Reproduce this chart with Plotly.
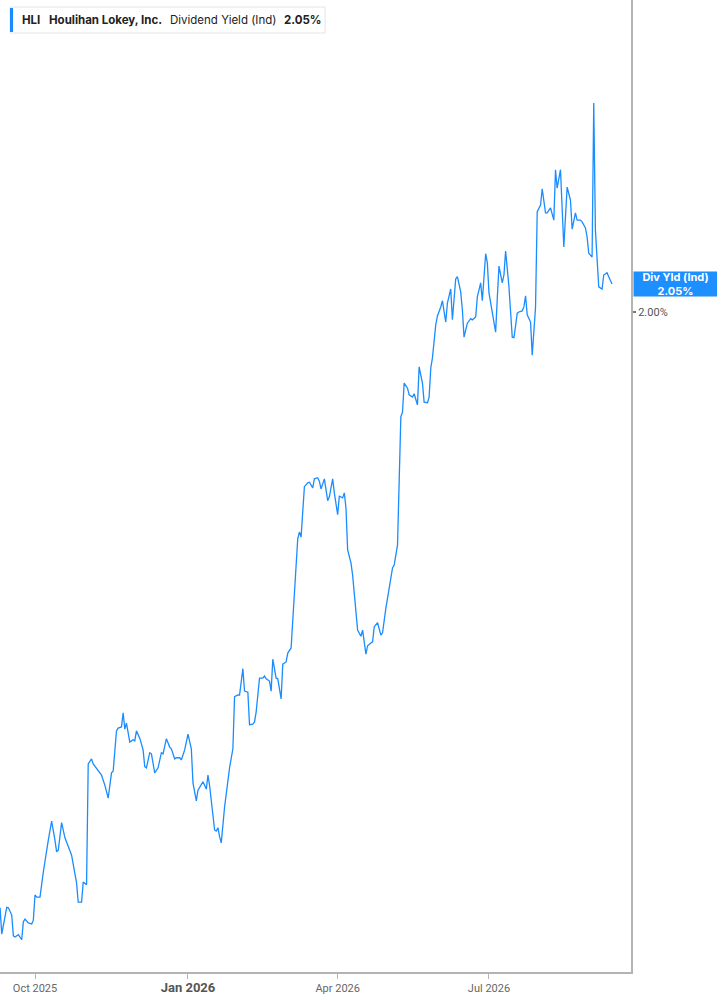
import plotly.graph_objects as go

# ---- data ----
dates = [
    "2025-09-10", "2025-09-11", "2025-09-14", "2025-09-15", "2025-09-17", "2025-09-18", "2025-09-19",
    "2025-09-21", "2025-09-23", "2025-09-24", "2025-09-25", "2025-09-27", "2025-09-29", "2025-09-30",
    "2025-10-01", "2025-10-02", "2025-10-04", "2025-10-06", "2025-10-09", "2025-10-11", "2025-10-13",
    "2025-10-14", "2025-10-15", "2025-10-17", "2025-10-19", "2025-10-21", "2025-10-22", "2025-10-23",
    "2025-10-26", "2025-10-27", "2025-10-29", "2025-10-30", "2025-11-01", "2025-11-02", "2025-11-04",
    "2025-11-05", "2025-11-08", "2025-11-10", "2025-11-12", "2025-11-14", "2025-11-16", "2025-11-17",
    "2025-11-19", "2025-11-20", "2025-11-22", "2025-11-23", "2025-11-24", "2025-11-25", "2025-11-27",
    "2025-11-29", "2025-11-30", "2025-12-01", "2025-12-03", "2025-12-05", "2025-12-06", "2025-12-07",
    "2025-12-09", "2025-12-10", "2025-12-12", "2025-12-14", "2025-12-16", "2025-12-17", "2025-12-19",
    "2025-12-21", "2025-12-22", "2025-12-24", "2025-12-25", "2025-12-27", "2025-12-28", "2025-12-30",
    "2026-01-01", "2026-01-03", "2026-01-04", "2026-01-06", "2026-01-07", "2026-01-09", "2026-01-10",
    "2026-01-12", "2026-01-13", "2026-01-14", "2026-01-16", "2026-01-17", "2026-01-18", "2026-01-19",
    "2026-01-20", "2026-01-21", "2026-01-23", "2026-01-25", "2026-01-26", "2026-01-28", "2026-01-29",
    "2026-01-31", "2026-02-01", "2026-02-03", "2026-02-04", "2026-02-06", "2026-02-07", "2026-02-09",
    "2026-02-10", "2026-02-11", "2026-02-13", "2026-02-15", "2026-02-16", "2026-02-17", "2026-02-19",
    "2026-02-20", "2026-02-21", "2026-02-23", "2026-02-24", "2026-02-26", "2026-02-27", "2026-03-01",
    "2026-03-02", "2026-03-04", "2026-03-05", "2026-03-07", "2026-03-08", "2026-03-09", "2026-03-10",
    "2026-03-12", "2026-03-14", "2026-03-15", "2026-03-16", "2026-03-17", "2026-03-18", "2026-03-20",
    "2026-03-21", "2026-03-22", "2026-03-24", "2026-03-26", "2026-03-27", "2026-03-29", "2026-03-30",
    "2026-04-01", "2026-04-02", "2026-04-04", "2026-04-05", "2026-04-06", "2026-04-07", "2026-04-09",
    "2026-04-10", "2026-04-12", "2026-04-13", "2026-04-15", "2026-04-16", "2026-04-18", "2026-04-19",
    "2026-04-21", "2026-04-22", "2026-04-23", "2026-04-25", "2026-04-27", "2026-04-28", "2026-04-30",
    "2026-05-01", "2026-05-02", "2026-05-04", "2026-05-05", "2026-05-07", "2026-05-09", "2026-05-10",
    "2026-05-11", "2026-05-13", "2026-05-14", "2026-05-16", "2026-05-17", "2026-05-19", "2026-05-20",
    "2026-05-22", "2026-05-23", "2026-05-25", "2026-05-26", "2026-05-27", "2026-05-28", "2026-05-30",
    "2026-05-31", "2026-06-02", "2026-06-03", "2026-06-05", "2026-06-06", "2026-06-08", "2026-06-09",
    "2026-06-11", "2026-06-12", "2026-06-14", "2026-06-15", "2026-06-16", "2026-06-18", "2026-06-20",
    "2026-06-21", "2026-06-23", "2026-06-24", "2026-06-26", "2026-06-27", "2026-06-29", "2026-06-30",
    "2026-07-01", "2026-07-03", "2026-07-05", "2026-07-06", "2026-07-07", "2026-07-09", "2026-07-10",
    "2026-07-11", "2026-07-13", "2026-07-15", "2026-07-16", "2026-07-18", "2026-07-19", "2026-07-21",
    "2026-07-22", "2026-07-23", "2026-07-24", "2026-07-26", "2026-07-27", "2026-07-29", "2026-07-30",
    "2026-08-01", "2026-08-02", "2026-08-04", "2026-08-05", "2026-08-07", "2026-08-09", "2026-08-10",
    "2026-08-11", "2026-08-13", "2026-08-15", "2026-08-16", "2026-08-17", "2026-08-19", "2026-08-20",
    "2026-08-22", "2026-08-23", "2026-08-25", "2026-08-26", "2026-08-28", "2026-08-29", "2026-08-30",
    "2026-09-01", "2026-09-02", "2026-09-03", "2026-09-05", "2026-09-07", "2026-09-08", "2026-09-10",
    "2026-09-11", "2026-09-13",
]

div_yield = [
    0.936, 0.889, 0.937, 0.936, 0.923, 0.886, 0.884,
    0.888, 0.879, 0.911, 0.916, 0.909, 0.907, 0.914,
    0.959, 0.955, 0.955, 1.000, 1.057, 1.091, 1.057,
    1.036, 1.039, 1.088, 1.061, 1.043, 1.038, 1.030,
    0.980, 0.946, 0.946, 0.982, 0.977, 1.193, 1.202,
    1.193, 1.182, 1.173, 1.155, 1.132, 1.177, 1.180,
    1.252, 1.257, 1.259, 1.284, 1.255, 1.266, 1.232,
    1.236, 1.234, 1.252, 1.239, 1.218, 1.188, 1.186,
    1.213, 1.211, 1.177, 1.186, 1.213, 1.211, 1.238,
    1.223, 1.220, 1.202, 1.204, 1.204, 1.200, 1.218,
    1.246, 1.220, 1.159, 1.127, 1.146, 1.157, 1.161,
    1.148, 1.173, 1.154, 1.102, 1.075, 1.073, 1.079,
    1.063, 1.052, 1.116, 1.164, 1.186, 1.220, 1.313,
    1.316, 1.316, 1.363, 1.323, 1.321, 1.263, 1.264,
    1.268, 1.286, 1.346, 1.346, 1.350, 1.345, 1.341,
    1.323, 1.380, 1.346, 1.345, 1.309, 1.371, 1.375,
    1.391, 1.400, 1.450, 1.539, 1.595, 1.607, 1.598,
    1.688, 1.695, 1.696, 1.691, 1.686, 1.702, 1.704,
    1.698, 1.684, 1.702, 1.663, 1.670, 1.702, 1.677,
    1.638, 1.671, 1.668, 1.677, 1.650, 1.575, 1.552,
    1.530, 1.473, 1.432, 1.421, 1.432, 1.389, 1.404,
    1.409, 1.411, 1.438, 1.445, 1.423, 1.427, 1.471,
    1.486, 1.507, 1.543, 1.548, 1.584, 1.813, 1.821,
    1.873, 1.864, 1.852, 1.848, 1.854, 1.834, 1.902,
    1.873, 1.839, 1.838, 1.848, 1.900, 1.918, 1.977,
    1.993, 2.009, 2.020, 1.982, 2.016, 2.041, 1.986,
    2.059, 2.063, 2.036, 2.004, 1.955, 1.980, 1.988,
    1.986, 1.991, 2.027, 2.052, 2.020, 2.104, 2.088,
    2.034, 1.995, 1.964, 2.025, 2.082, 2.052, 2.066,
    2.109, 2.045, 1.955, 1.954, 1.998, 2.000, 2.002,
    2.009, 2.029, 1.995, 1.982, 1.923, 2.009, 2.179,
    2.191, 2.220, 2.177, 2.177, 2.186, 2.164, 2.254,
    2.221, 2.254, 2.116, 2.170, 2.223, 2.200, 2.148,
    2.177, 2.164, 2.164, 2.161, 2.150, 2.134, 2.105,
    2.098, 2.373, 2.146, 2.045, 2.041, 2.066, 2.070,
    2.063, 2.050,
]

x_tick_vals = ["2025-10-01", "2026-01-01", "2026-04-01", "2026-07-01"]
x_tick_text = ["Oct 2025", "<b><span style='font-size:13px;color:#555'>Jan 2026</span></b>", "Apr 2026", "Jul 2026"]
y_tick_vals = [2.0]
y_tick_text = ["2.00%"]

ticker = "HLI"
company = "Houlihan Lokey, Inc."
metric = "Dividend Yield (Ind)"
last_value_text = "2.05%"
last_value = 2.05

LINE_BLUE = "#1a8cff"
AXIS_GRAY = "#b3b3b3"

W, H = 717, 1005
M_L, M_R, M_T, M_B = 0, 86, 0, 33
PW, PH = W - M_L - M_R, H - M_T - M_B


def px_x(p):
    return p / PW


def px_y(p):
    return 1 - p / PH


fig = go.Figure()
fig.add_trace(go.Scatter(
    x=dates, y=div_yield, mode="lines",
    line=dict(color=LINE_BLUE, width=1.3),
    hoverinfo="skip", showlegend=False,
))

fig.update_layout(
    width=W, height=H,
    margin=dict(l=M_L, r=M_R, t=M_T, b=M_B, pad=0),
    paper_bgcolor="white", plot_bgcolor="white",
    font=dict(family="Roboto, Inter, sans-serif", color="#666", size=11),
    xaxis=dict(
        type="date",
        range=["2025-09-09 22:50", "2026-09-24 09:40"],
        tickvals=x_tick_vals, ticktext=x_tick_text,
        showgrid=False, zeroline=False,
        showline=True, linecolor=AXIS_GRAY, linewidth=2,
        ticks="outside", ticklen=5, tickwidth=1, tickcolor=AXIS_GRAY,
        tickfont=dict(size=11, color="#666"),
        fixedrange=True,
    ),
    yaxis=dict(
        side="right",
        range=[0.8214, 2.5571],
        tickvals=y_tick_vals, ticktext=y_tick_text,
        showgrid=False, zeroline=False,
        showline=True, linecolor=AXIS_GRAY, linewidth=2,
        ticks="outside", ticklen=3, tickwidth=2, tickcolor="#777",
        tickfont=dict(size=11, color="#555"),
        fixedrange=True,
    ),
)

# Legend-like header box (top-left)
fig.add_shape(type="rect", xref="paper", yref="paper",
              x0=px_x(10), x1=px_x(325), y0=px_y(33), y1=px_y(7),
              line=dict(color="#e4e4e4", width=1), fillcolor="white", layer="above")
fig.add_shape(type="rect", xref="paper", yref="paper",
              x0=px_x(10), x1=px_x(13), y0=px_y(32), y1=px_y(8),
              line=dict(width=0), fillcolor=LINE_BLUE, layer="above")

header_parts = [
    (20, f"<b>{ticker}</b>"),
    (47, f"<b>{company}</b>"),
    (168, metric),
    (282, f"<b>{last_value_text}</b>"),
]
for px, txt in header_parts:
    fig.add_annotation(xref="paper", yref="paper", x=px_x(px), y=px_y(20),
                       xanchor="left", yanchor="middle", text=txt, showarrow=False,
                       font=dict(family="Inter, Roboto, sans-serif", size=11.5, color="#222"))

# Last value label on right axis
fig.add_annotation(xref="paper", yref="y", x=1.0, y=last_value,
                   xanchor="left", yanchor="middle",
                   text=f"<b>Div Yld (Ind)</b><br><b>{last_value_text}</b>",
                   showarrow=False, bgcolor="#1e8fff", width=83, height=24,
                   borderpad=0, xshift=2,
                   font=dict(family="Inter, Roboto, sans-serif", size=11, color="white"))

fig.write_html("out.html", config={"displayModeBar": False},
               post_script="document.body.style.margin='0';document.body.style.padding='0';")
